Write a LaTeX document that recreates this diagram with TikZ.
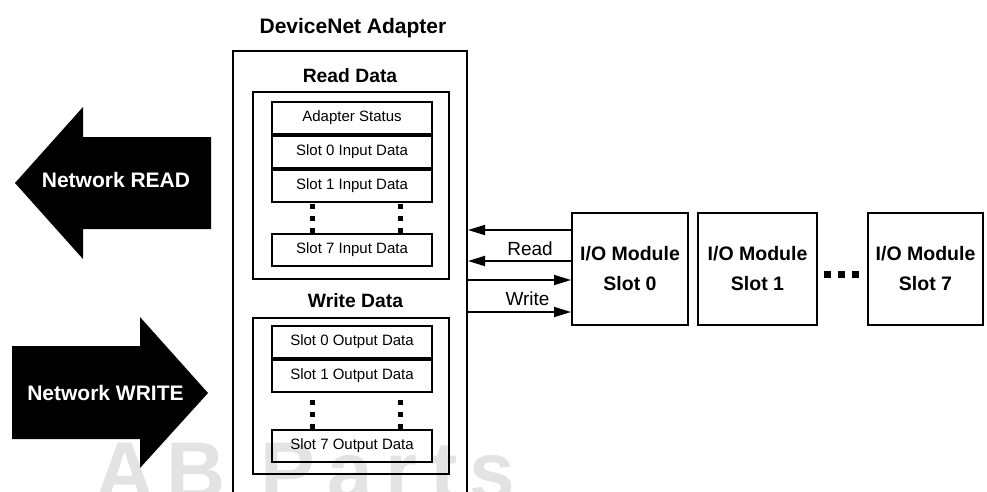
\documentclass[tikz,border=0pt]{standalone}
\usepackage{fontspec}
\setmainfont{Liberation Sans}
\usetikzlibrary{positioning,arrows.meta}

\begin{document}
\begin{tikzpicture}[x=1pt,y=-1pt]
        \tikzstyle{box}=[draw,line width=2pt,inner sep=0pt]
        \tikzstyle{cell}=[box,minimum width=160,minimum height=32,font=\fontsize{15}{15}\selectfont]
        \tikzstyle{module}=[box,minimum height=112,align=center,font=\fontsize{19.5}{30}\selectfont\bfseries,execute at begin node=\rule{0pt}{31pt}]
        \tikzstyle{title}=[anchor=base,font=\fontsize{19.3}{19.3}\selectfont\bfseries]
        \tikzstyle{net}=[anchor=base,text=white,font=\fontsize{21}{21}\selectfont\bfseries]
        \tikzstyle{flow}=[line width=1.8pt,-{Triangle[length=17pt,width=10pt]}]
        \tikzstyle{vdots}=[line width=5pt,dash pattern=on 5pt off 7pt]
        \useasboundingbox (0,0) rectangle (987,491);
        \clip (0,0) rectangle (987,491);
        % watermark
        \node[anchor=base west,inner sep=0pt,text=black!11,font=\fontsize{82}{82}\selectfont\bfseries\addfontfeatures{LetterSpace=15}] (wm) at (95,499) {AB Parts};
        % network arrows
        \fill (15,183) -- (83,107) -- (83,137) -- (211,137) -- (211,229) -- (83,229) -- (83,259) -- cycle;
        \fill (208,393) -- (140,317) -- (140,346) -- (12,346) -- (12,439) -- (140,439) -- (140,468) -- cycle;
        \node[net] (netread) at (116,187) {Network READ};
        \node[net] (netwrite) at (105.5,400) {Network WRITE};
        % adapter
        \node[title,font=\fontsize{21}{21}\selectfont\bfseries] (devnet) at (353,33) {DeviceNet Adapter};
        \node[box,minimum width=234,minimum height=469] (adapter) at (350,285.5) {};
        \node[title] (readdata) at (350,82) {Read Data};
        \node[box,minimum width=196,minimum height=187] (rbox) at (351,185.5) {};
        \node[cell] (st) at (352,118) {Adapter Status};
        \node[cell,below=0pt of st] (in0) {Slot 0 Input Data};
        \node[cell,below=0pt of in0] (in1) {Slot 1 Input Data};
        \node[cell] (in7) at (352,250) {Slot 7 Input Data};
        \node[title] (writedata) at (355.5,307) {Write Data};
        \node[box,minimum width=196,minimum height=156] (wbox) at (351,396) {};
        \node[cell] (out0) at (352,342) {Slot 0 Output Data};
        \node[cell,below=0pt of out0] (out1) {Slot 1 Output Data};
        \node[cell] (out7) at (352,445.5) {Slot 7 Output Data};
        \foreach \dx in {-40,48} {
            \draw[vdots] ([xshift=\dx pt]in7.north) -- ([xshift=\dx pt]in1.south);
            \draw[vdots] ([xshift=\dx pt]out7.north) -- ([xshift=\dx pt]out1.south);
        }
        % i/o modules
        \node[module,minimum width=116] (io0) at (630,269) {I/O Module\\Slot 0};
        \node[module,minimum width=119,right=8pt of io0] (io1) {I/O Module\\Slot 1};
        \node[module,minimum width=115] (io7) at (925.5,269) {I/O Module\\Slot 7};
        \foreach \x in {827,841,855} \fill (\x-3.5,270.5) rectangle ++(7,7);
        % read / write lines
        \foreach \dy/\name in {39/r1,8/r2,-11/w1,-43/w2}
            \coordinate (\name) at ([yshift=\dy pt]io0.west);
        \draw[flow] (r1) -- (r1 -| adapter.east);
        \draw[flow] (r2) -- (r2 -| adapter.east);
        \draw[flow] (w1 -| adapter.east) -- (w1);
        \draw[flow] (w2 -| adapter.east) -- (w2);
        \node[anchor=base,font=\fontsize{19}{19}\selectfont] (rlabel) at (530,255) {Read};
        \node[anchor=base,font=\fontsize{19}{19}\selectfont] (wlabel) at (527.5,305) {Write};
    \end{tikzpicture}
\end{document}
